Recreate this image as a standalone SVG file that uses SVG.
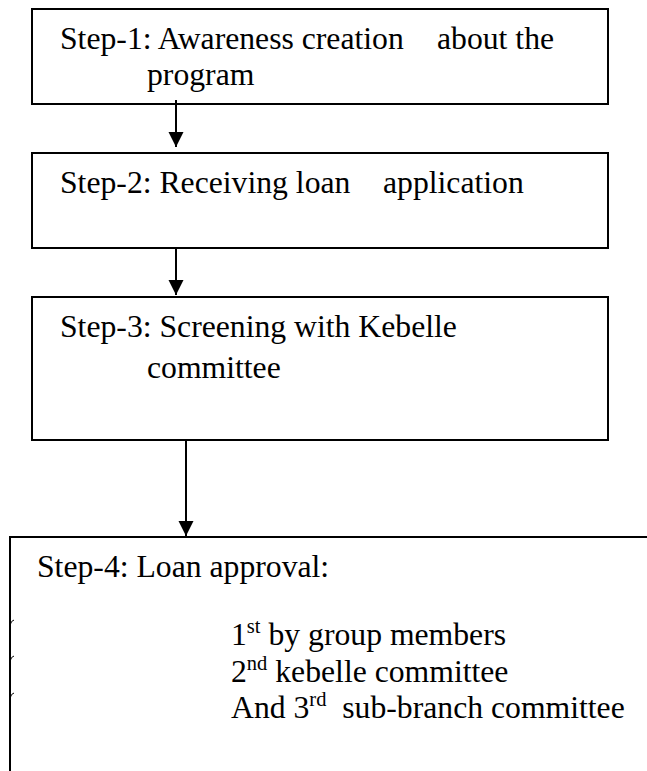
<svg xmlns="http://www.w3.org/2000/svg" width="647" height="771" viewBox="0 0 647 771">
<style>
.box{fill:#fff;stroke:#000;stroke-width:2}
.t{font-family:"Liberation Serif","Times New Roman",serif;font-size:31.7px;fill:#000;white-space:pre}
.sup{font-size:20.5px}
.con{stroke:#000;stroke-width:2;fill:none}
.tick{stroke:#000;stroke-width:1;fill:none}
</style>
<defs>
<marker id="ah" markerUnits="userSpaceOnUse" markerWidth="16" markerHeight="16" viewBox="0 0 16 16" refX="15" refY="8" orient="auto">
<path d="M0 0.5 L15 8 L0 15.5 Z" fill="#000"/>
</marker>
</defs>
<rect width="647" height="771" fill="#fff"/>
<g id="step1">
<rect class="box" x="32" y="9" width="576" height="95"/>
<text class="t" x="60" y="49">Step-1: Awareness creation <tspan x="437">about the</tspan></text>
<text class="t" x="147" y="85">program</text>
</g>
<g id="step2">
<rect class="box" x="32" y="153" width="576" height="95"/>
<text class="t" x="60" y="193">Step-2: Receiving loan <tspan x="383">application</tspan></text>
</g>
<g id="step3">
<rect class="box" x="32" y="297" width="576" height="143"/>
<text class="t" x="60" y="337">Step-3: Screening with Kebelle</text>
<text class="t" x="147" y="378">committee</text>
</g>
<g id="step4">
<path class="box" d="M660 537 H10 V790" fill="none"/>
<path class="tick" d="M10.5 624 Q11 621 14 620"/>
<path class="tick" d="M10.5 660 Q11 657 14 656"/>
<path class="tick" d="M10.5 697 Q11 694 14 693"/>
<text class="t" x="37" y="577">Step-4: Loan approval:</text>
<text class="t" x="231" y="645">1<tspan class="sup" dy="-12">st</tspan><tspan dy="12"> by group members</tspan></text>
<text class="t" x="231" y="682">2<tspan class="sup" dy="-12">nd</tspan><tspan dy="12"> kebelle committee</tspan></text>
<text class="t" x="231" y="718">And 3<tspan class="sup" dy="-12">rd</tspan><tspan dy="12">  sub-branch committee</tspan></text>
</g>
<g id="connectors">
<line class="con" x1="176" y1="100" x2="176" y2="147" marker-end="url(#ah)"/>
<line class="con" x1="176" y1="248" x2="176" y2="295" marker-end="url(#ah)"/>
<line class="con" x1="186" y1="441" x2="186" y2="536" marker-end="url(#ah)"/>
</g>
</svg>
